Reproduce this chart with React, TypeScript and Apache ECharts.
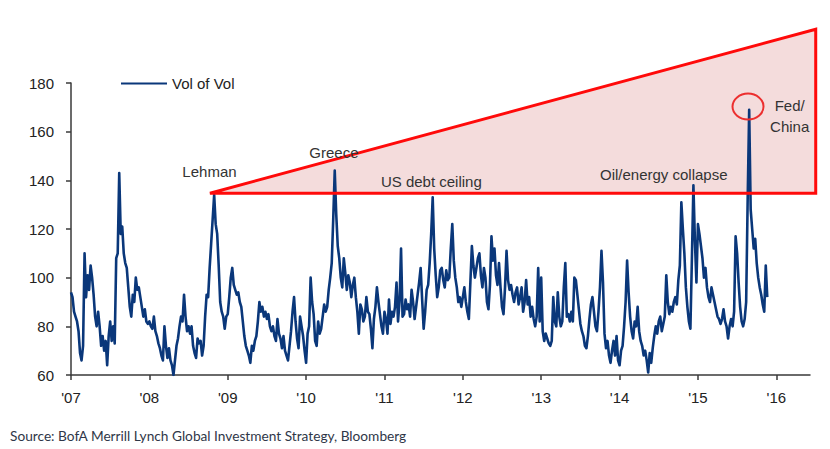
import React, { useEffect, useRef } from "react";
import * as echarts from "echarts";

const START_YEAR = 2007;
const WEEKS_PER_YEAR = 52;

// Weekly readings of the "Vol of Vol" index, per calendar year
const v2007 = [94, 92, 86, 84, 82, 78, 69, 66, 72, 110, 92, 101, 95, 105, 100, 93, 84, 80, 86, 80, 72, 76, 70, 74, 64, 76, 82, 74, 80, 73, 108, 110, 143, 118, 121, 110, 106, 104, 96, 88, 84, 93, 90, 100, 95, 96, 92, 88, 84, 87, 82, 81];
const v2008 = [82, 80, 79, 84, 78, 76, 73, 71, 68, 66, 80, 72, 67, 71, 66, 64, 60, 66, 72, 75, 80, 84, 82, 93, 84, 78, 80, 77, 80, 72, 69, 67, 75, 73, 74, 68, 72, 84, 93, 92, 104, 114, 124, 134, 122, 118, 105, 90, 86, 84, 79, 84];
const v2009 = [85, 92, 100, 104, 97, 95, 93, 94, 90, 88, 82, 76, 72, 70, 68, 65, 72, 70, 74, 76, 82, 90, 86, 88, 84, 86, 83, 85, 80, 78, 80, 76, 74, 83, 77, 75, 71, 76, 70, 68, 66, 72, 78, 86, 92, 82, 75, 71, 84, 80, 76, 70];
const v2010 = [65, 77, 80, 100, 90, 85, 74, 72, 82, 77, 79, 84, 89, 86, 88, 95, 100, 106, 124, 144, 126, 113, 108, 100, 96, 108, 102, 95, 101, 98, 92, 97, 100, 92, 86, 77, 89, 87, 82, 84, 92, 86, 85, 79, 71, 83, 88, 96, 90, 85, 80, 77];
const v2011 = [86, 83, 77, 91, 81, 86, 84, 88, 98, 82, 90, 112, 84, 85, 91, 87, 89, 84, 95, 90, 83, 88, 93, 98, 104, 91, 79, 86, 95, 97, 106, 118, 133, 112, 101, 92, 96, 103, 104, 99, 96, 103, 99, 100, 112, 122, 107, 100, 96, 90, 92, 88];
const v2012 = [92, 96, 90, 86, 83, 98, 113, 105, 100, 104, 108, 110, 101, 96, 104, 100, 90, 87, 97, 117, 107, 112, 101, 97, 106, 96, 88, 85, 96, 111, 99, 95, 97, 93, 90, 94, 96, 89, 92, 96, 86, 90, 99, 89, 92, 84, 88, 83, 80, 84, 104, 82];
const v2013 = [100, 78, 74, 77, 75, 73, 72, 74, 92, 82, 80, 94, 84, 80, 82, 96, 106, 84, 85, 82, 86, 82, 100, 99, 93, 87, 81, 78, 76, 72, 71, 76, 83, 89, 92, 86, 80, 78, 86, 96, 111, 98, 77, 71, 74, 68, 65, 70, 74, 68, 76, 66];
const v2014 = [64, 70, 72, 80, 90, 107, 94, 84, 78, 75, 82, 80, 88, 78, 74, 72, 68, 70, 66, 61, 69, 65, 71, 76, 80, 77, 82, 84, 78, 81, 84, 101, 90, 85, 88, 86, 90, 92, 89, 99, 105, 131, 120, 110, 96, 88, 82, 79, 108, 138, 115, 98];
const v2015 = [122, 118, 113, 108, 100, 104, 96, 92, 90, 96, 93, 90, 87, 84, 83, 81, 83, 87, 82, 80, 75, 80, 83, 80, 86, 117, 110, 98, 88, 82, 80, 83, 90, 132, 169, 128, 120, 112, 116, 106, 100, 96, 93, 89, 86, 105, 92];

const yearTicks = [2007, 2008, 2009, 2010, 2011, 2012, 2013, 2014, 2015, 2016];

const seriesName = "Vol of Vol";
const sourceText = "Source: BofA Merrill Lynch Global Investment Strategy, Bloomberg";

// Annotation anchors in data coordinates [year, value]
const triangleCorners = [
  [2008.773, 134.7],
  [2016.503, 202.1],
  [2016.503, 134.7],
];
const circleCenter = [2015.639, 170.3];
const eventLabels = [
  { text: "Lehman", at: [2008.767, 143.8] },
  { text: "Greece", at: [2010.355, 151.4] },
  { text: "US debt ceiling", at: [2011.598, 139.7] },
  { text: "Oil/energy collapse", at: [2014.564, 142.2] },
  { text: "Fed/\nChina", at: [2016.171, 166.6] },
];

const allValues = [...v2007, ...v2008, ...v2009, ...v2010, ...v2011, ...v2012, ...v2013, ...v2014, ...v2015];
const seriesData = allValues.map((v, i) => [START_YEAR + i / WEEKS_PER_YEAR, v]);

const FONT = "Liberation Sans";
const NAVY = "#0a377a";

export default function App() {
  const ref = useRef<HTMLDivElement>(null);

  useEffect(() => {
    if (!ref.current) return;
    const chart = echarts.init(ref.current, null, { renderer: "svg" });
    chart.setOption({
      animation: false,
      backgroundColor: "#ffffff",
      grid: { left: 71, right: 20, top: 83, bottom: 74 },
      legend: {
        left: 116,
        top: 71,
        icon: "rect",
        itemWidth: 46,
        itemHeight: 2,
        textStyle: { fontFamily: FONT, fontSize: 15, color: "#222" },
        data: [seriesName],
      },
      xAxis: {
        type: "value",
        min: 2007,
        max: 2016.43,
        interval: 1,
        splitLine: { show: false },
        axisLine: { lineStyle: { color: "#3a3a3a", width: 1.5 } },
        axisTick: { show: true, length: 5, customValues: yearTicks, lineStyle: { color: "#3a3a3a", width: 1.5 } },
        axisLabel: {
          customValues: yearTicks,
          margin: 15,
          fontFamily: FONT,
          fontSize: 15,
          color: "#222",
          formatter: (v: number) => "'" + String(Math.round(v)).slice(2),
        },
      },
      yAxis: {
        type: "value",
        min: 60,
        max: 180,
        interval: 20,
        splitLine: { show: false },
        axisLine: { show: true, lineStyle: { color: "#3a3a3a", width: 1.5 } },
        axisTick: { show: true, length: 5, lineStyle: { color: "#3a3a3a", width: 1.5 } },
        axisLabel: { margin: 17, fontFamily: FONT, fontSize: 15, color: "#222" },
      },
      series: [
        {
          name: seriesName,
          type: "line",
          data: seriesData,
          symbol: "none",
          z: 5,
          lineStyle: { color: NAVY, width: 2.6, join: "round" },
          itemStyle: { color: NAVY },
        },
      ],
    });

    const px = (p: number[]) => chart.convertToPixel({ gridIndex: 0 }, p) as number[];
    const pts = triangleCorners.map(px);
    const cc = px(circleCenter);
    const elements: any[] = [
      {
        type: "polygon",
        z: 0,
        silent: true,
        shape: { points: pts },
        style: { fill: "#f4dcdc", stroke: "none" },
      },
      {
        type: "polygon",
        z: 20,
        silent: true,
        shape: { points: pts },
        style: { fill: "none", stroke: "#ff0a0a", lineWidth: 3, lineJoin: "miter" },
      },
      {
        type: "ellipse",
        z: 20,
        silent: true,
        shape: { cx: cc[0], cy: cc[1], rx: 15.5, ry: 13 },
        style: { fill: "none", stroke: "#ec2f2f", lineWidth: 2 },
      },
      ...eventLabels.map((l) => {
        const p = px(l.at);
        return {
          type: "text",
          z: 21,
          x: p[0],
          y: p[1],
          style: {
            text: l.text,
            fontFamily: FONT,
            fontSize: 15,
            lineHeight: 21,
            fill: "#333",
            align: "center",
            verticalAlign: "middle",
          },
        };
      }),
      {
        type: "text",
        z: 21,
        x: 10,
        y: 435,
        style: {
          text: sourceText,
          fontFamily: "Lato",
          fontSize: 13.7,
          fill: "#2f3748",
          align: "left",
          verticalAlign: "middle",
        },
      },
    ];
    chart.setOption({ graphic: { elements } });

    return () => chart.dispose();
  }, []);

  return <div ref={ref} style={{ position: "fixed", left: 0, top: 0, width: 830, height: 449 }} />;
}
